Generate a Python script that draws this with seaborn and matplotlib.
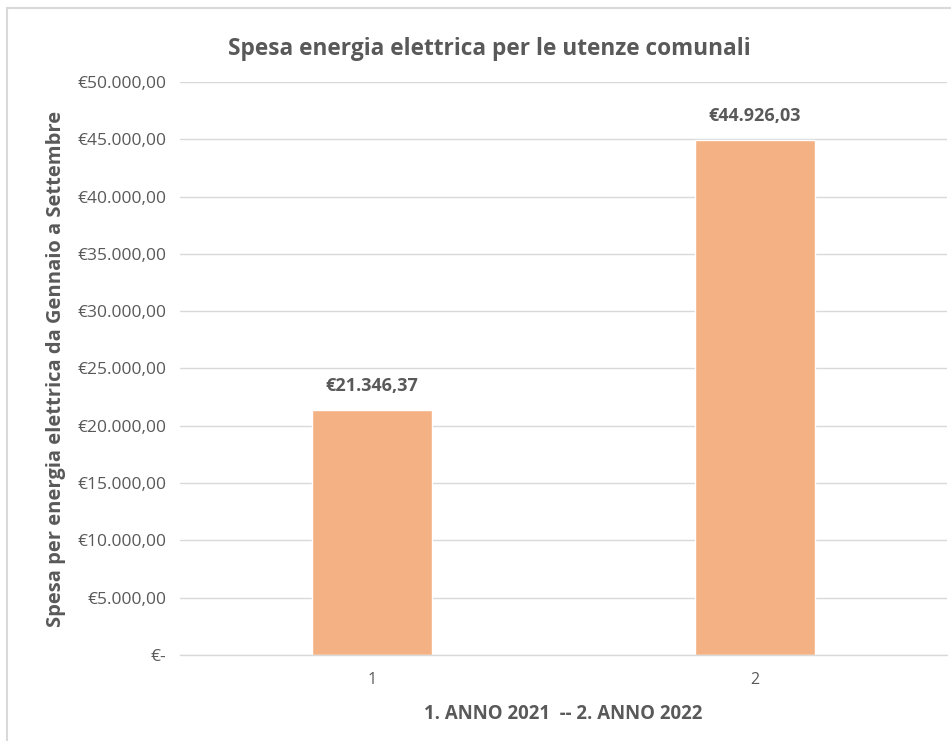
import matplotlib
matplotlib.use("Agg")
import matplotlib.pyplot as plt
import seaborn as sns
import pandas as pd
from matplotlib.patches import Rectangle

# dati
categorie = ["1", "2"]
spesa = [21346.37, 44926.03]
y_ticks = [0, 5000, 10000, 15000, 20000, 25000, 30000, 35000, 40000, 45000, 50000]

grigio = "#595959"
arancio = "#F4B183"


def euro(v):
    if v == 0:
        return "€-"
    s = f"{v:,.2f}"
    return "€" + s.replace(",", "X").replace(".", ",").replace("X", ".")


df = pd.DataFrame({"Anno": categorie, "Spesa": spesa})

sns.set_theme(style="white")
plt.rcParams["font.family"] = ["Open Sans", "DejaVu Sans"]

fig = plt.figure(figsize=(9.51, 7.41), dpi=100)
ax = fig.add_axes([0.1898, 0.1161, 0.8055, 0.7732])

sns.barplot(data=df, x="Anno", y="Spesa", color=arancio, width=0.313,
            saturation=1, ax=ax)

ax.set_ylim(0, 50000)
ax.set_xlim(-0.5, 1.5)
ax.set_yticks(y_ticks)
ax.set_yticklabels([euro(v) for v in y_ticks])
ax.yaxis.grid(True, color="#D9D9D9", linewidth=1)
ax.set_axisbelow(True)
for s in ["top", "right", "left"]:
    ax.spines[s].set_visible(False)
ax.spines["bottom"].set_color("#D9D9D9")
ax.spines["bottom"].set_linewidth(1)
ax.tick_params(axis="both", length=0, colors=grigio)
ax.tick_params(axis="y", pad=10, labelsize=12.5)
ax.tick_params(axis="x", pad=12, labelsize=11.5)

for i, v in enumerate(spesa):
    ax.text(i, v + 1300, euro(v), ha="center", va="bottom",
            fontsize=13, fontweight="bold", color=grigio)

ax.set_xlabel("1. ANNO 2021  -- 2. ANNO 2022", fontsize=13.4, fontweight="bold",
              color=grigio, labelpad=12)
ax.set_ylabel("Spesa per energia elettrica da Gennaio a Settembre", fontsize=14.5,
              fontweight="bold", color=grigio, labelpad=8)

fig.text(0.515, 0.934, "Spesa energia elettrica per le utenze comunali",
         ha="center", va="center", fontsize=16.3, fontweight="bold", color=grigio)

# cornice del grafico
fig.patches.append(Rectangle((7 / 951, -0.1), 1.2, 1.1 - 8 / 741,
                             transform=fig.transFigure, fill=False,
                             edgecolor="#D9D9D9", linewidth=1.5))

fig.savefig("out.png", dpi=100)
